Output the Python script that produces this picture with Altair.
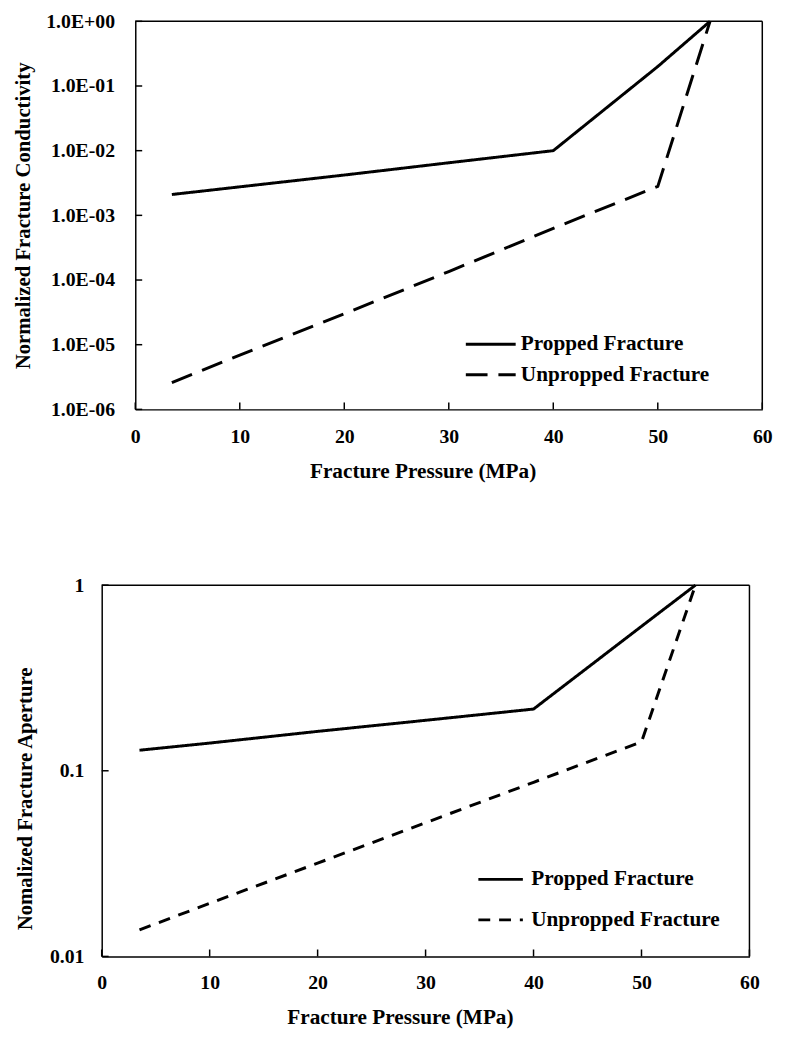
import altair as alt
import pandas as pd

FONT = "Liberation Serif"

# ---------------- data ----------------
pressure = [3.5, 10, 20, 30, 40, 50, 55]
series = ["Propped Fracture", "Unpropped Fracture"]

cond_propped = [2.1e-3, 2.76e-3, 4.2e-3, 6.5e-3, 1.0e-2, 0.2, 1.0]
cond_unpropped = [2.6e-6, 6.9e-6, 3.0e-5, 1.35e-4, 6.3e-4, 2.8e-3, 1.0]

ap_propped = [0.129, 0.141, 0.163, 0.187, 0.215, 0.6, 1.0]
ap_unpropped = [0.0139, 0.0193, 0.0318, 0.0525, 0.0867, 0.143, 1.0]

x_ticks = [0, 10, 20, 30, 40, 50, 60]
cond_ticks = [1e-6, 1e-5, 1e-4, 1e-3, 1e-2, 1e-1, 1.0]
ap_ticks = [0.01, 0.1, 1.0]
x_domain = [0, 60]


def long_df(a, b):
    rows = []
    for name, vals in zip(series, [a, b]):
        for p, v in zip(pressure, vals):
            rows.append({"Pressure": p, "Value": v, "Series": name})
    return pd.DataFrame(rows)


def panel(df, yticks, w, h, ytitle, ylabel_expr, dash, x_axis_kw, y_axis_kw,
          legend_kw, shift=0):
    # shift > 0 lets the frame start `shift` px left of the aligned plot origin
    xscale = alt.Scale(domain=x_domain, nice=False, zero=False,
                       range=[-shift, w])
    yscale = alt.Scale(type="log", domain=[yticks[0], yticks[-1]], nice=False)
    common = dict(
        ticks=False, tickSize=0, grid=False, labelFont=FONT, labelFontSize=20,
        labelFontWeight="bold", labelColor="black", titleFont=FONT,
        titleFontWeight="bold", titleColor="black", domainColor="black",
        domainWidth=1.5, labelOverlap=False,
    )
    xaxis = alt.Axis(title="Fracture Pressure (MPa)", values=x_ticks, labelFlush=False,
                     titleFontSize=21.5, **x_axis_kw, **common)
    yaxis_args = dict(title=ytitle, values=yticks, **y_axis_kw, **common)
    if shift:
        yaxis_args["offset"] = shift
    if ylabel_expr:
        yaxis_args["labelExpr"] = ylabel_expr
    yaxis = alt.Axis(**yaxis_args)

    lines = alt.Chart(df).mark_line(color="black", strokeWidth=3).encode(
        x=alt.X("Pressure:Q", scale=xscale, axis=xaxis),
        y=alt.Y("Value:Q", scale=yscale, axis=yaxis),
        strokeDash=alt.StrokeDash(
            "Series:N",
            scale=alt.Scale(domain=series, range=[[1, 0], dash]),
            legend=alt.Legend(
                title=None, orient="none", symbolType="stroke",
                symbolStrokeWidth=3, symbolStrokeColor="black",
                labelFont=FONT, labelFontSize=21.5, labelFontWeight="bold",
                labelColor="black", padding=0, clipHeight=20, labelLimit=400,
                **legend_kw,
            ),
        ),
        detail="Series:N",
    )

    # inward tick marks
    xt = alt.Chart(pd.DataFrame({"Pressure": x_ticks})).mark_rule(
        color="black", strokeWidth=1.5
    ).encode(
        x=alt.X("Pressure:Q", scale=xscale, axis=xaxis),
        y=alt.value(h), y2=alt.value(h - 7),
    )
    yt = alt.Chart(pd.DataFrame({"Value": yticks})).mark_rule(
        color="black", strokeWidth=1.5
    ).encode(
        y=alt.Y("Value:Q", scale=yscale, axis=yaxis),
        x=alt.value(-shift), x2=alt.value(-shift + 7),
    )
    # top and right frame lines
    frame = pd.DataFrame({"x0": [x_domain[0], x_domain[1]],
                          "x1": [x_domain[1], x_domain[1]],
                          "y0": [yticks[-1], yticks[0]],
                          "y1": [yticks[-1], yticks[-1]]})
    fr = alt.Chart(frame).mark_rule(color="black", strokeWidth=1.5).encode(
        x=alt.X("x0:Q", scale=xscale, axis=xaxis),
        x2="x1:Q",
        y=alt.Y("y0:Q", scale=yscale, axis=yaxis),
        y2="y1:Q",
    )
    return alt.layer(lines, xt, yt, fr).properties(
        width=w, height=h, view=alt.ViewBackground(stroke=None)
    )


sci_expr = ("'1.0E' + (round(log(datum.value)/LN10) < 0 ? '-' : '+') + "
            "(abs(round(log(datum.value)/LN10)) < 10 ? '0' : '') + "
            "abs(round(log(datum.value)/LN10))")

top = panel(
    long_df(cond_propped, cond_unpropped), cond_ticks, 635, 393,
    "Normalized Fracture Conductivity", sci_expr, [22, 11],
    dict(labelPadding=18, titlePadding=14, titleX=291),
    dict(labelPadding=21, titlePadding=12, titleFontSize=21),
    dict(legendX=333, legendY=317, symbolSize=2550, rowPadding=9, labelOffset=3.5),
)

SHIFT = 34
bottom = panel(
    long_df(ap_propped, ap_unpropped), ap_ticks, 656 - SHIFT, 376,
    "Nomalized Fracture Aperture", "format(datum.value, '~g')", [12, 9],
    dict(labelPadding=17, titlePadding=14, titleX=302 - SHIFT),
    dict(labelPadding=18, titlePadding=14, titleFontSize=21, titleY=216),
    dict(legendX=345.5, legendY=288, symbolSize=2030, rowPadding=19,
         labelOffset=6.5),
    shift=SHIFT,
)

chart = alt.vconcat(top, bottom, spacing=94).properties(
    padding={"left": 13, "top": 5, "right": 2, "bottom": 0}
).configure(
    background="white"
).configure_view(
    stroke=None
).resolve_scale(strokeDash="independent")

chart.save("out.html", embed_options={"renderer": "svg", "actions": False})
